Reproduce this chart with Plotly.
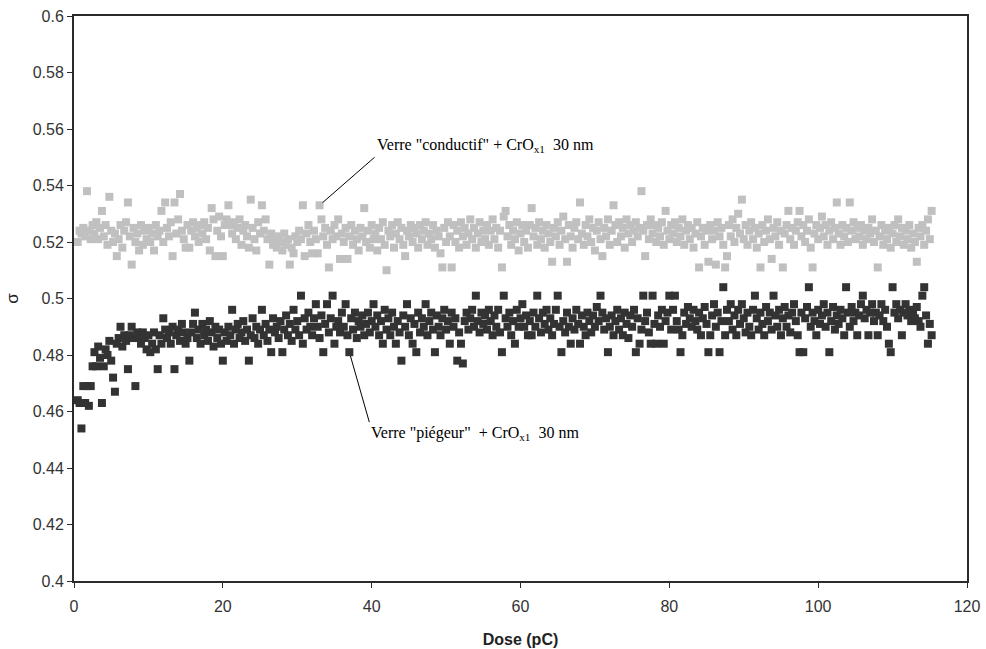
import plotly.graph_objects as go


# dose grid (pC), shared by both series
dose = [
    0.5, 0.75, 1, 1.25, 1.5, 1.75, 2, 2.25, 2.5, 2.75, 3, 3.25, 3.5, 3.75, 4, 4.25, 4.5, 4.75, 5, 5.25,
    5.5, 5.75, 6, 6.25, 6.5, 6.75, 7, 7.25, 7.5, 7.75, 8, 8.25, 8.5, 8.75, 9, 9.25, 9.5, 9.75, 10, 10.25,
    10.5, 10.75, 11, 11.25, 11.5, 11.75, 12, 12.25, 12.5, 12.75, 13, 13.25, 13.5, 13.75, 14, 14.25, 14.5, 14.75, 15, 15.25,
    15.5, 15.75, 16, 16.25, 16.5, 16.75, 17, 17.25, 17.5, 17.75, 18, 18.25, 18.5, 18.75, 19, 19.25, 19.5, 19.75, 20, 20.25,
    20.5, 20.75, 21, 21.25, 21.5, 21.75, 22, 22.25, 22.5, 22.75, 23, 23.25, 23.5, 23.75, 24, 24.25, 24.5, 24.75, 25, 25.25,
    25.5, 25.75, 26, 26.25, 26.5, 26.75, 27, 27.25, 27.5, 27.75, 28, 28.25, 28.5, 28.75, 29, 29.25, 29.5, 29.75, 30, 30.25,
    30.5, 30.75, 31, 31.25, 31.5, 31.75, 32, 32.25, 32.5, 32.75, 33, 33.25, 33.5, 33.75, 34, 34.25, 34.5, 34.75, 35, 35.25,
    35.5, 35.75, 36, 36.25, 36.5, 36.75, 37, 37.25, 37.5, 37.75, 38, 38.25, 38.5, 38.75, 39, 39.25, 39.5, 39.75, 40, 40.25,
    40.5, 40.75, 41, 41.25, 41.5, 41.75, 42, 42.25, 42.5, 42.75, 43, 43.25, 43.5, 43.75, 44, 44.25, 44.5, 44.75, 45, 45.25,
    45.5, 45.75, 46, 46.25, 46.5, 46.75, 47, 47.25, 47.5, 47.75, 48, 48.25, 48.5, 48.75, 49, 49.25, 49.5, 49.75, 50, 50.25,
    50.5, 50.75, 51, 51.25, 51.5, 51.75, 52, 52.25, 52.5, 52.75, 53, 53.25, 53.5, 53.75, 54, 54.25, 54.5, 54.75, 55, 55.25,
    55.5, 55.75, 56, 56.25, 56.5, 56.75, 57, 57.25, 57.5, 57.75, 58, 58.25, 58.5, 58.75, 59, 59.25, 59.5, 59.75, 60, 60.25,
    60.5, 60.75, 61, 61.25, 61.5, 61.75, 62, 62.25, 62.5, 62.75, 63, 63.25, 63.5, 63.75, 64, 64.25, 64.5, 64.75, 65, 65.25,
    65.5, 65.75, 66, 66.25, 66.5, 66.75, 67, 67.25, 67.5, 67.75, 68, 68.25, 68.5, 68.75, 69, 69.25, 69.5, 69.75, 70, 70.25,
    70.5, 70.75, 71, 71.25, 71.5, 71.75, 72, 72.25, 72.5, 72.75, 73, 73.25, 73.5, 73.75, 74, 74.25, 74.5, 74.75, 75, 75.25,
    75.5, 75.75, 76, 76.25, 76.5, 76.75, 77, 77.25, 77.5, 77.75, 78, 78.25, 78.5, 78.75, 79, 79.25, 79.5, 79.75, 80, 80.25,
    80.5, 80.75, 81, 81.25, 81.5, 81.75, 82, 82.25, 82.5, 82.75, 83, 83.25, 83.5, 83.75, 84, 84.25, 84.5, 84.75, 85, 85.25,
    85.5, 85.75, 86, 86.25, 86.5, 86.75, 87, 87.25, 87.5, 87.75, 88, 88.25, 88.5, 88.75, 89, 89.25, 89.5, 89.75, 90, 90.25,
    90.5, 90.75, 91, 91.25, 91.5, 91.75, 92, 92.25, 92.5, 92.75, 93, 93.25, 93.5, 93.75, 94, 94.25, 94.5, 94.75, 95, 95.25,
    95.5, 95.75, 96, 96.25, 96.5, 96.75, 97, 97.25, 97.5, 97.75, 98, 98.25, 98.5, 98.75, 99, 99.25, 99.5, 99.75, 100, 100.25,
    100.5, 100.75, 101, 101.25, 101.5, 101.75, 102, 102.25, 102.5, 102.75, 103, 103.25, 103.5, 103.75, 104, 104.25, 104.5, 104.75, 105, 105.25,
    105.5, 105.75, 106, 106.25, 106.5, 106.75, 107, 107.25, 107.5, 107.75, 108, 108.25, 108.5, 108.75, 109, 109.25, 109.5, 109.75, 110, 110.25,
    110.5, 110.75, 111, 111.25, 111.5, 111.75, 112, 112.25, 112.5, 112.75, 113, 113.25, 113.5, 113.75, 114, 114.25, 114.5, 114.75, 115, 115.25,
]

# Verre "conductif" + CrOx1 30 nm (light grey)
sigma_conductif = [
    0.520, 0.524, 0.523, 0.525, 0.522, 0.538, 0.524, 0.521, 0.526, 0.523, 0.527, 0.521, 0.525, 0.531, 0.522, 0.526, 0.519, 0.536, 0.524, 0.520,
    0.523, 0.515, 0.521, 0.526, 0.518, 0.524, 0.527, 0.534, 0.522, 0.512, 0.525, 0.520, 0.523, 0.517, 0.526, 0.519, 0.524, 0.521, 0.525, 0.520,
    0.523, 0.517, 0.526, 0.522, 0.524, 0.531, 0.520, 0.534, 0.525, 0.522, 0.527, 0.515, 0.534, 0.523, 0.528, 0.537, 0.524, 0.521, 0.518, 0.526,
    0.518, 0.524, 0.527, 0.522, 0.525, 0.520, 0.526, 0.523, 0.527, 0.521, 0.525, 0.517, 0.532, 0.528, 0.515, 0.524, 0.529, 0.522, 0.515, 0.526,
    0.528, 0.533, 0.526, 0.523, 0.527, 0.521, 0.525, 0.528, 0.519, 0.524, 0.526, 0.522, 0.518, 0.535, 0.525, 0.521, 0.517, 0.527, 0.523, 0.533,
    0.524, 0.528, 0.521, 0.512, 0.523, 0.519, 0.521, 0.518, 0.522, 0.520, 0.517, 0.523, 0.519, 0.521, 0.512, 0.518, 0.516, 0.522, 0.520, 0.524,
    0.521, 0.533, 0.515, 0.523, 0.526, 0.520, 0.516, 0.524, 0.521, 0.516, 0.533, 0.528, 0.522, 0.525, 0.519, 0.511, 0.524, 0.521, 0.526, 0.522,
    0.528, 0.514, 0.523, 0.520, 0.525, 0.514, 0.522, 0.526, 0.519, 0.524, 0.521, 0.517, 0.525, 0.522, 0.532, 0.520, 0.524, 0.518, 0.526, 0.521,
    0.523, 0.517, 0.525, 0.521, 0.527, 0.519, 0.510, 0.524, 0.522, 0.526, 0.518, 0.523, 0.527, 0.521, 0.525, 0.519, 0.515, 0.524, 0.522, 0.526,
    0.520, 0.525, 0.523, 0.518, 0.526, 0.521, 0.524, 0.527, 0.519, 0.523, 0.521, 0.526, 0.518, 0.524, 0.522, 0.516, 0.511, 0.525, 0.520, 0.527,
    0.522, 0.511, 0.526, 0.520, 0.524, 0.518, 0.527, 0.522, 0.525, 0.519, 0.523, 0.528, 0.521, 0.525, 0.518, 0.523, 0.527, 0.520, 0.524, 0.521,
    0.526, 0.519, 0.524, 0.528, 0.521, 0.525, 0.518, 0.524, 0.511, 0.529, 0.531, 0.522, 0.526, 0.519, 0.524, 0.521, 0.527, 0.517, 0.523, 0.526,
    0.520, 0.524, 0.518, 0.526, 0.532, 0.522, 0.525, 0.519, 0.527, 0.521, 0.524, 0.518, 0.526, 0.523, 0.520, 0.513, 0.525, 0.522, 0.527, 0.519,
    0.524, 0.529, 0.521, 0.513, 0.526, 0.522, 0.518, 0.525, 0.527, 0.521, 0.534, 0.523, 0.519, 0.526, 0.522, 0.528, 0.520, 0.525, 0.517, 0.524,
    0.527, 0.521, 0.515, 0.525, 0.522, 0.528, 0.519, 0.524, 0.533, 0.526, 0.520, 0.527, 0.522, 0.525, 0.518, 0.528, 0.523, 0.526, 0.520, 0.524,
    0.527, 0.522, 0.525, 0.538, 0.524, 0.515, 0.526, 0.521, 0.528, 0.523, 0.526, 0.520, 0.525, 0.522, 0.527, 0.519, 0.531, 0.524, 0.521, 0.526,
    0.523, 0.527, 0.520, 0.525, 0.522, 0.528, 0.519, 0.524, 0.526, 0.521, 0.525, 0.518, 0.523, 0.527, 0.511, 0.522, 0.525, 0.519, 0.524, 0.513,
    0.526, 0.521, 0.524, 0.512, 0.527, 0.522, 0.525, 0.519, 0.511, 0.515, 0.526, 0.522, 0.528, 0.520, 0.525, 0.530, 0.523, 0.535, 0.521, 0.526,
    0.519, 0.524, 0.527, 0.521, 0.525, 0.518, 0.523, 0.511, 0.526, 0.520, 0.524, 0.528, 0.521, 0.514, 0.525, 0.522, 0.527, 0.519, 0.524, 0.511,
    0.523, 0.526, 0.531, 0.521, 0.525, 0.519, 0.524, 0.527, 0.531, 0.522, 0.526, 0.520, 0.524, 0.528, 0.518, 0.511, 0.523, 0.526, 0.521, 0.525,
    0.529, 0.522, 0.526, 0.519, 0.524, 0.527, 0.521, 0.525, 0.534, 0.523, 0.519, 0.526, 0.522, 0.525, 0.520, 0.534, 0.524, 0.527, 0.521, 0.525,
    0.522, 0.526, 0.519, 0.524, 0.521, 0.525, 0.523, 0.528, 0.520, 0.524, 0.511, 0.522, 0.526, 0.519, 0.524, 0.521, 0.525, 0.518, 0.523, 0.526,
    0.520, 0.528, 0.522, 0.525, 0.519, 0.524, 0.521, 0.526, 0.518, 0.523, 0.520, 0.513, 0.525, 0.522, 0.526, 0.519, 0.524, 0.528, 0.521, 0.531,
]

# Verre "piégeur" + CrOx1 30 nm (dark grey)
sigma_piegeur = [
    0.464, 0.463, 0.454, 0.469, 0.463, 0.469, 0.462, 0.469, 0.476, 0.481, 0.476, 0.483, 0.479, 0.463, 0.476, 0.482, 0.480, 0.485, 0.478, 0.472,
    0.467, 0.484, 0.486, 0.490, 0.483, 0.487, 0.485, 0.475, 0.487, 0.490, 0.486, 0.469, 0.488, 0.486, 0.484, 0.488, 0.486, 0.482, 0.487, 0.481,
    0.484, 0.488, 0.482, 0.475, 0.487, 0.484, 0.493, 0.489, 0.486, 0.488, 0.484, 0.490, 0.475, 0.487, 0.489, 0.485, 0.491, 0.488, 0.484, 0.486,
    0.478, 0.488, 0.491, 0.495, 0.486, 0.489, 0.484, 0.491, 0.487, 0.489, 0.485, 0.492, 0.488, 0.483, 0.490, 0.486, 0.489, 0.484, 0.478, 0.488,
    0.485, 0.490, 0.487, 0.496, 0.484, 0.489, 0.491, 0.486, 0.488, 0.492, 0.485, 0.489, 0.478, 0.487, 0.493, 0.486, 0.490, 0.484, 0.489, 0.496,
    0.487, 0.491, 0.485, 0.489, 0.481, 0.493, 0.488, 0.490, 0.486, 0.492, 0.481, 0.489, 0.494, 0.487, 0.491, 0.485, 0.496, 0.489, 0.492, 0.487,
    0.501, 0.484, 0.493, 0.489, 0.495, 0.490, 0.487, 0.493, 0.498, 0.490, 0.486, 0.494, 0.481, 0.491, 0.498, 0.488, 0.493, 0.501, 0.484, 0.490,
    0.492, 0.488, 0.495, 0.490, 0.498, 0.487, 0.481, 0.493, 0.489, 0.495, 0.486, 0.492, 0.490, 0.494, 0.487, 0.491, 0.495, 0.488, 0.492, 0.498,
    0.490, 0.494, 0.487, 0.492, 0.484, 0.496, 0.489, 0.493, 0.487, 0.495, 0.490, 0.484, 0.492, 0.488, 0.478, 0.494, 0.490, 0.498, 0.487, 0.493,
    0.484, 0.491, 0.481, 0.495, 0.488, 0.493, 0.490, 0.498, 0.487, 0.492, 0.495, 0.489, 0.481, 0.494, 0.490, 0.487, 0.493, 0.496, 0.489, 0.492,
    0.484, 0.495, 0.490, 0.493, 0.478, 0.488, 0.484, 0.477, 0.492, 0.495, 0.489, 0.493, 0.496, 0.490, 0.501, 0.492, 0.488, 0.495, 0.491, 0.494,
    0.489, 0.496, 0.492, 0.487, 0.494, 0.490, 0.496, 0.488, 0.481, 0.501, 0.493, 0.490, 0.495, 0.487, 0.492, 0.484, 0.496, 0.490, 0.493, 0.498,
    0.490, 0.494, 0.487, 0.492, 0.487, 0.495, 0.490, 0.501, 0.493, 0.488, 0.495, 0.491, 0.496, 0.489, 0.493, 0.487, 0.491, 0.496, 0.501, 0.490,
    0.481, 0.492, 0.488, 0.495, 0.490, 0.484, 0.493, 0.489, 0.496, 0.491, 0.484, 0.494, 0.490, 0.487, 0.495, 0.492, 0.488, 0.494, 0.490, 0.497,
    0.492, 0.501, 0.495, 0.489, 0.493, 0.481, 0.490, 0.494, 0.487, 0.492, 0.496, 0.489, 0.493, 0.487, 0.495, 0.491, 0.486, 0.494, 0.490, 0.496,
    0.481, 0.493, 0.484, 0.489, 0.501, 0.492, 0.495, 0.488, 0.484, 0.501, 0.491, 0.484, 0.494, 0.490, 0.496, 0.484, 0.492, 0.495, 0.501, 0.489,
    0.496, 0.501, 0.492, 0.489, 0.481, 0.487, 0.495, 0.491, 0.497, 0.493, 0.490, 0.496, 0.492, 0.489, 0.495, 0.487, 0.493, 0.497, 0.491, 0.481,
    0.487, 0.494, 0.498, 0.490, 0.495, 0.481, 0.492, 0.504, 0.487, 0.496, 0.492, 0.498, 0.489, 0.494, 0.487, 0.496, 0.491, 0.498, 0.493, 0.488,
    0.495, 0.490, 0.487, 0.496, 0.501, 0.493, 0.489, 0.495, 0.491, 0.487, 0.497, 0.492, 0.495, 0.489, 0.501, 0.494, 0.490, 0.496, 0.487, 0.493,
    0.497, 0.490, 0.494, 0.488, 0.495, 0.498, 0.492, 0.487, 0.481, 0.495, 0.481, 0.493, 0.497, 0.504, 0.490, 0.495, 0.492, 0.487, 0.496, 0.491,
    0.494, 0.498, 0.490, 0.495, 0.481, 0.492, 0.497, 0.489, 0.494, 0.491, 0.496, 0.493, 0.487, 0.504, 0.495, 0.490, 0.497, 0.492, 0.495, 0.487,
    0.494, 0.498, 0.501, 0.493, 0.496, 0.487, 0.495, 0.498, 0.492, 0.495, 0.487, 0.494, 0.498, 0.492, 0.496, 0.490, 0.484, 0.481, 0.504, 0.495,
    0.498, 0.493, 0.496, 0.487, 0.495, 0.498, 0.494, 0.496, 0.492, 0.495, 0.493, 0.497, 0.492, 0.490, 0.501, 0.504, 0.494, 0.484, 0.491, 0.487,
]

y_ticks = [0.4, 0.42, 0.44, 0.46, 0.48, 0.5, 0.52, 0.54, 0.56, 0.58, 0.6]
y_tick_labels = ['0.4', '0.42', '0.44', '0.46', '0.48', '0.5', '0.52', '0.54', '0.56', '0.58', '0.6']
x_ticks = [0, 20, 40, 60, 80, 100, 120]

AXIS_COLOR = '#2b2b2b'
TICK_FONT = dict(family='Liberation Sans, Arial', size=16, color='#333333')
NOTE_FONT = dict(family='Liberation Serif, Times New Roman', size=16, color='black')

fig = go.Figure()
fig.add_trace(go.Scatter(
    x=dose,
    y=sigma_conductif,
    mode='markers',
    name='Verre "conductif" + CrOx1 30 nm',
    marker=dict(symbol='square', size=8, color='#c0c0c0', line=dict(width=0)),
))
fig.add_trace(go.Scatter(
    x=dose,
    y=sigma_piegeur,
    mode='markers',
    name='Verre "piégeur" + CrOx1 30 nm',
    marker=dict(symbol='square', size=8, color='#333333', line=dict(width=0)),
))

# leader lines from labels to one point of each series
fig.add_annotation(
    x=dose[130], y=sigma_conductif[130],
    text='Verre "conductif" + CrO<sub>x1</sub>  30 nm',
    showarrow=True, arrowhead=0, arrowwidth=1, arrowcolor='black', standoff=4,
    ax=55, ay=-48, xanchor='left', yanchor='bottom',
    font=NOTE_FONT,
)
fig.add_annotation(
    x=dose[146], y=sigma_piegeur[146],
    text='Verre "piégeur"  + CrO<sub>x1</sub>  30 nm',
    showarrow=True, arrowhead=0, arrowwidth=1, arrowcolor='black', standoff=4,
    ax=20, ay=70, xanchor='left', yanchor='top',
    font=NOTE_FONT,
)

fig.update_layout(
    width=986,
    height=649,
    margin=dict(l=74, r=19, t=16, b=68),
    plot_bgcolor='white',
    paper_bgcolor='white',
    showlegend=False,
    xaxis=dict(
        range=[0, 120],
        tickvals=x_ticks,
        ticks='outside', ticklen=5, tickcolor=AXIS_COLOR,
        showline=True, linecolor=AXIS_COLOR, linewidth=2, mirror=True,
        showgrid=False, zeroline=False, automargin=False,
        tickfont=TICK_FONT, ticklabelstandoff=5,
        title=dict(text='<b>Dose (pC)</b>', font=dict(family='Liberation Sans, Arial', size=16, color='#222222'), standoff=20),
    ),
    yaxis=dict(
        range=[0.4, 0.6],
        tickvals=y_ticks,
        ticktext=y_tick_labels,
        ticks='outside', ticklen=5, tickcolor=AXIS_COLOR,
        showline=True, linecolor=AXIS_COLOR, linewidth=2, mirror=True,
        showgrid=False, zeroline=False, automargin=False,
        tickfont=TICK_FONT,
        title=dict(text='σ', font=dict(family='Liberation Sans, Arial', size=17, color='#222222'), standoff=10),
    ),
)

# the page's default body margin would push the fixed-size figure off the window
fig.write_html(
    "out.html",
    config={'displayModeBar': False},
    post_script="document.body.style.margin = '0';",
)
